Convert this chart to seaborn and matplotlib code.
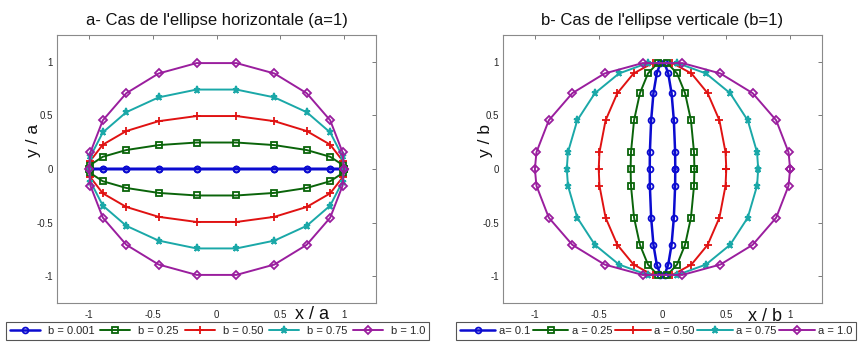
import matplotlib
matplotlib.use("Agg")
import matplotlib.pyplot as plt
import seaborn as sns
import pandas as pd

# ---------------- data ----------------
# Panel a: horizontal ellipse (a = 1), x / a shared by all series
x_over_a = [1.000, 0.988, 0.891, 0.707, 0.454, 0.156, -0.156, -0.454, -0.707, -0.891, -0.988,
            -1.000, -0.988, -0.891, -0.707, -0.454, -0.156, 0.156, 0.454, 0.707, 0.891, 0.988, 1.000]
y_b0001 = [0.0, 0.0002, 0.0005, 0.0007, 0.0009, 0.001, 0.001, 0.0009, 0.0007, 0.0005, 0.0002,
           0.0, -0.0002, -0.0005, -0.0007, -0.0009, -0.001, -0.001, -0.0009, -0.0007, -0.0005, -0.0002, 0.0]
y_b025 = [0.0, 0.039, 0.114, 0.177, 0.223, 0.247, 0.247, 0.223, 0.177, 0.114, 0.039,
          0.0, -0.039, -0.114, -0.177, -0.223, -0.247, -0.247, -0.223, -0.177, -0.114, -0.039, 0.0]
y_b050 = [0.0, 0.078, 0.227, 0.354, 0.446, 0.494, 0.494, 0.446, 0.354, 0.227, 0.078,
          0.0, -0.078, -0.227, -0.354, -0.446, -0.494, -0.494, -0.446, -0.354, -0.227, -0.078, 0.0]
y_b075 = [0.0, 0.117, 0.341, 0.530, 0.668, 0.741, 0.741, 0.668, 0.530, 0.341, 0.117,
          0.0, -0.117, -0.341, -0.530, -0.668, -0.741, -0.741, -0.668, -0.530, -0.341, -0.117, 0.0]
y_b100 = [0.0, 0.156, 0.454, 0.707, 0.891, 0.988, 0.988, 0.891, 0.707, 0.454, 0.156,
          0.0, -0.156, -0.454, -0.707, -0.891, -0.988, -0.988, -0.891, -0.707, -0.454, -0.156, 0.0]
labels_a = ["b = 0.001", "b = 0.25", "b = 0.50", "b = 0.75", "b = 1.0"]

# Panel b: vertical ellipse (b = 1), y / b shared by all series
y_over_b = [0.0, 0.156, 0.454, 0.707, 0.891, 0.988, 0.988, 0.891, 0.707, 0.454, 0.156,
            0.0, -0.156, -0.454, -0.707, -0.891, -0.988, -0.988, -0.891, -0.707, -0.454, -0.156, 0.0]
x_a010 = [0.100, 0.099, 0.089, 0.071, 0.045, 0.016, -0.016, -0.045, -0.071, -0.089, -0.099,
          -0.100, -0.099, -0.089, -0.071, -0.045, -0.016, 0.016, 0.045, 0.071, 0.089, 0.099, 0.100]
x_a025 = [0.250, 0.247, 0.223, 0.177, 0.114, 0.039, -0.039, -0.114, -0.177, -0.223, -0.247,
          -0.250, -0.247, -0.223, -0.177, -0.114, -0.039, 0.039, 0.114, 0.177, 0.223, 0.247, 0.250]
x_a050 = [0.500, 0.494, 0.446, 0.354, 0.227, 0.078, -0.078, -0.227, -0.354, -0.446, -0.494,
          -0.500, -0.494, -0.446, -0.354, -0.227, -0.078, 0.078, 0.227, 0.354, 0.446, 0.494, 0.500]
x_a075 = [0.750, 0.741, 0.668, 0.530, 0.341, 0.117, -0.117, -0.341, -0.530, -0.668, -0.741,
          -0.750, -0.741, -0.668, -0.530, -0.341, -0.117, 0.117, 0.341, 0.530, 0.668, 0.741, 0.750]
x_a100 = [1.000, 0.988, 0.891, 0.707, 0.454, 0.156, -0.156, -0.454, -0.707, -0.891, -0.988,
          -1.000, -0.988, -0.891, -0.707, -0.454, -0.156, 0.156, 0.454, 0.707, 0.891, 0.988, 1.000]
labels_b = ["a= 0.1", "a = 0.25", "a = 0.50", "a = 0.75", "a = 1.0"]

tick_values = [-1, -0.5, 0, 0.5, 1]
tick_labels = ["-1", "-0.5", "0", "0.5", "1"]

# ---------------- style ----------------
sns.set_style("white")
plt.rcParams["font.family"] = ["Liberation Sans", "DejaVu Sans"]

colors = ["#0b0bd0", "#0a640a", "#e01212", "#1aa8a8", "#9a1e9e"]
markers = ["o", "s", "+", "*", "D"]
msizes = [4.2, 4.6, 6.0, 5.2, 4.2]
lwidths = [1.8, 1.4, 1.4, 1.4, 1.4]

fig = plt.figure(figsize=(8.65, 3.42), dpi=100)
axL = fig.add_axes([57 / 865, 1 - 303 / 342, 319 / 865, 268 / 342])
axR = fig.add_axes([503 / 865, 1 - 303 / 342, 319 / 865, 268 / 342])


def draw(ax, xs_list, ys_list, labels):
    for i, (xs, ys, lab) in enumerate(zip(xs_list, ys_list, labels)):
        df = pd.DataFrame({"x": xs, "y": ys})
        solid = markers[i] in ("+", "*")
        sns.lineplot(data=df, x="x", y="y", ax=ax, sort=False, estimator=None,
                     color=colors[i], linewidth=lwidths[i], marker=markers[i],
                     markersize=msizes[i], markeredgecolor=colors[i],
                     markerfacecolor=colors[i] if solid else "none",
                     markeredgewidth=1.3, label=lab, zorder=2 + i)
    if ax.get_legend() is not None:
        ax.get_legend().remove()
    ax.set_xlim(-1.25, 1.25)
    ax.set_ylim(-1.25, 1.25)
    ax.set_xticks(tick_values)
    ax.set_xticklabels(tick_labels)
    ax.set_yticks(tick_values)
    ax.set_yticklabels(tick_labels)
    ax.tick_params(axis="both", which="both", direction="in", length=3, width=0.7,
                   colors="#7a7a7a", labelcolor="#262626", labelsize=7,
                   top=True, right=True)
    ax.tick_params(axis="x", pad=5)
    ax.tick_params(axis="y", pad=3)
    for s in ax.spines.values():
        s.set_color("#8a8a8a")
        s.set_linewidth(0.8)


draw(axL, [x_over_a] * 5, [y_b0001, y_b025, y_b050, y_b075, y_b100], labels_a)
draw(axR, [x_a010, x_a025, x_a050, x_a075, x_a100], [y_over_b] * 5, labels_b)

axL.set_title("a- Cas de l'ellipse horizontale (a=1)", fontsize=12, color="#111111", pad=7)
axR.set_title("b- Cas de l'ellipse verticale (b=1)", fontsize=12, color="#111111", pad=7)

axL.set_xlabel("x / a", fontsize=13, color="#111111")
axL.set_ylabel("y / a", fontsize=12.5, color="#111111")
axR.set_xlabel("x / b", fontsize=13, color="#111111")
axR.set_ylabel("y / b", fontsize=12.5, color="#111111")
axL.xaxis.set_label_coords(0.80, -0.012)
axL.yaxis.set_label_coords(-0.05, 0.608)
axR.xaxis.set_label_coords(0.821, -0.018)
axR.yaxis.set_label_coords(-0.03, 0.608)

hL, lL = axL.get_legend_handles_labels()
hR, lR = axR.get_legend_handles_labels()
legL = fig.legend(hL, lL, loc="upper left", bbox_to_anchor=(6 / 865, 1 - 322 / 342),
                  ncol=5, fontsize=8, handlelength=2.7, handletextpad=0.7,
                  columnspacing=0.55, borderpad=0.35, borderaxespad=0, frameon=True,
                  fancybox=False, edgecolor="#555555", framealpha=1)
legR = fig.legend(hR, lR, loc="upper left", bbox_to_anchor=(456 / 865, 1 - 322 / 342),
                  ncol=5, fontsize=8, handlelength=3.2, handletextpad=0.3,
                  columnspacing=0.25, borderpad=0.35, borderaxespad=0, frameon=True,
                  fancybox=False, edgecolor="#555555", framealpha=1)
for leg in (legL, legR):
    leg.get_frame().set_linewidth(0.8)

fig.savefig("out.png", dpi=100)
